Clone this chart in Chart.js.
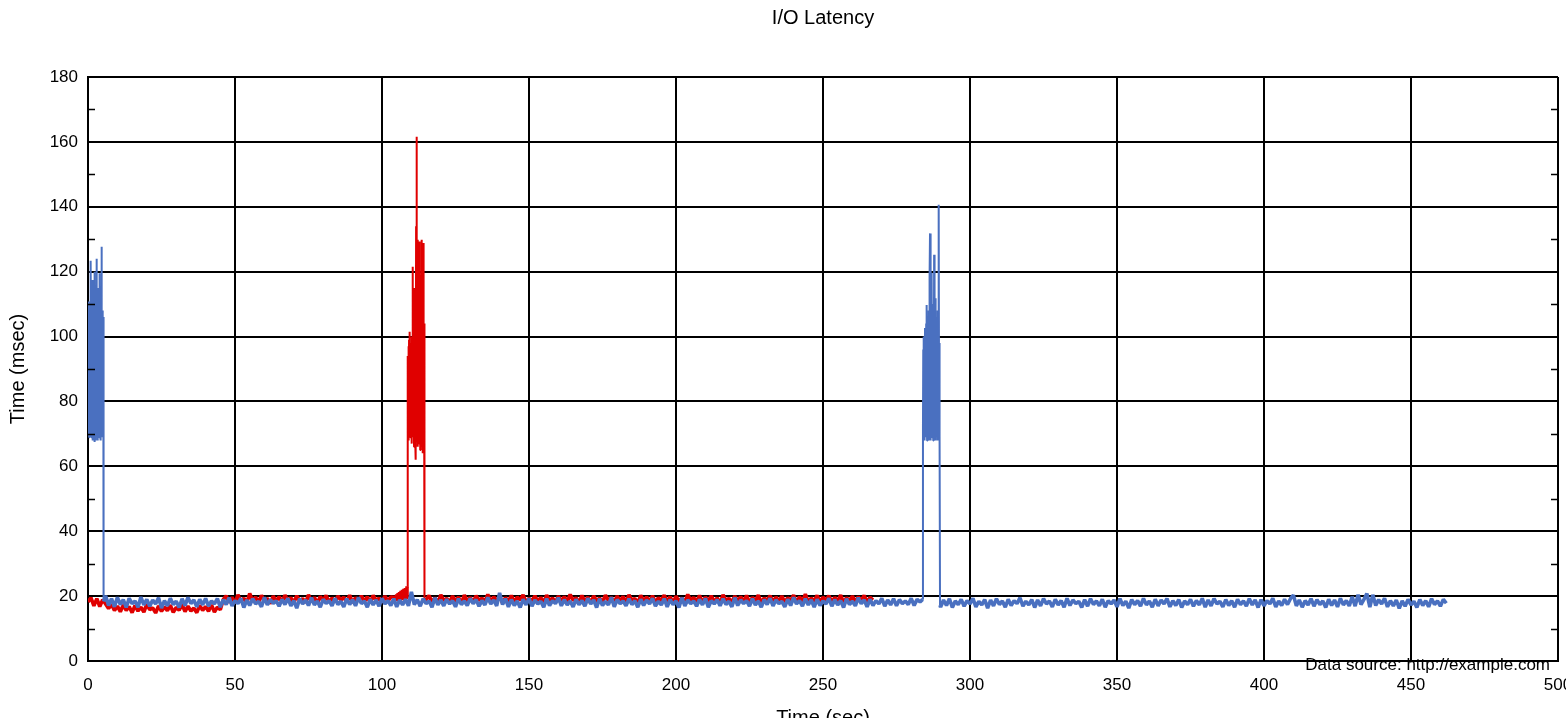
<!DOCTYPE html>
<html>
<head>
<meta charset="utf-8">
<title>I/O Latency</title>
<script src="https://cdn.jsdelivr.net/npm/chart.js@4.4.1/dist/chart.umd.min.js"></script>
<style>
  html, body { margin: 0; padding: 0; background: #fff; }
  canvas { display: block; }
</style>
</head>
<body>
<canvas id="latencyChart" width="1566" height="718"></canvas>
<script>
// axis ticks
const xTickValues = [0, 50, 100, 150, 200, 250, 300, 350, 400, 450, 500];
const yTickValues = [0, 20, 40, 60, 80, 100, 120, 140, 160, 180];
const yMinorTicks = [10, 30, 50, 70, 90, 110, 130, 150, 170];

// red series (msec)
// 0..103 s, every 1 s
const redSteady1 = [
  18.2, 19.5, 17.0, 19.2, 16.8, 18.9,
  17.6, 16.2, 17.4, 15.6,
  16.9, 15.2, 17.3, 15.6, 16.8, 14.9, 17.1, 15.4, 16.6, 15.1, 17.5, 15.8, 16.4, 14.8, 17.0, 15.3, 16.7, 15.5,
  17.2, 15.0, 16.5, 15.7, 17.4, 15.2, 16.9, 15.4, 16.3, 14.9, 17.1, 15.6, 16.8, 15.3, 17.3, 15.1, 16.6, 15.8,
  18.9, 20.1, 18.0, 19.6, 17.8, 20.4, 18.3, 19.4, 17.9, 20.8, 18.5, 19.7, 18.1, 20.2, 18.6, 19.3, 17.7, 20.0, 18.4, 19.8,
  18.2, 20.3, 18.7, 19.5, 17.9, 20.1, 18.5, 19.2, 18.0, 20.4, 18.3, 19.6, 17.8, 19.9, 18.6, 20.2, 18.1, 19.4, 18.4, 20.0,
  18.7, 19.7, 18.2, 20.3, 17.9, 19.5, 18.5, 20.1, 18.3, 19.8, 18.0, 20.2, 18.6, 19.4, 18.1, 20.0, 18.4, 19.7
];
// 104..108.5 s, every 0.25 s (creeping up before the burst)
const redRamp = [
  19.6, 18.4, 20.1, 18.7, 20.5, 18.5, 20.9, 18.9, 21.2, 18.6,
  21.6, 19.0, 21.9, 18.8, 22.2, 19.2, 22.5, 19.4, 22.6
];
// 108.6..114.5 s, every 0.1 s
const redBurst = [
  23, 72, 94, 70, 97, 68, 99, 101.5, 71, 95,
  69, 98, 72, 96, 70, 100, 67, 99, 121.5, 69,
  104, 71, 109, 66, 106, 70, 115, 68, 112, 62,
  134, 72, 161.6, 69, 118, 129.8, 66, 113, 70, 122,
  67, 129.3, 71, 110, 65, 119, 69, 114, 66, 129.8,
  70, 108, 64, 121, 68, 128.8, 67, 104, 70, 18.6
];
// 115..267 s, every 1 s
const redSteady2 = [
  18.9, 20.2, 18.1, 19.5, 17.9, 20.4, 18.6, 19.3, 18.2, 20.0, 18.5, 19.7, 17.8, 20.3, 18.4, 19.6, 18.0, 20.1, 18.7, 19.4,
  18.3, 20.5, 18.1, 19.8, 18.6, 20.0, 17.9, 19.5, 18.4, 20.2, 18.2, 19.7, 18.8, 20.4, 18.0, 19.3, 18.5, 20.1, 18.3, 19.6,
  17.9, 20.3, 18.6, 19.4, 18.1, 20.0, 18.4, 19.8, 18.2, 20.5, 18.7, 19.5, 18.0, 20.2, 18.3, 19.7, 17.8, 20.1, 18.5, 19.4,
  18.2, 20.3, 18.6, 19.6, 18.0, 20.0, 18.4, 19.9, 18.1, 20.4, 18.7, 19.3, 17.9, 20.2, 18.5, 19.7, 18.3, 20.1, 18.0, 19.5,
  18.6, 20.3, 18.2, 19.8, 17.9, 20.0, 18.4, 19.4, 18.1, 20.5, 18.7, 19.6, 18.3, 20.2, 18.0, 19.7, 18.5, 20.1, 18.2, 19.5,
  17.8, 20.4, 18.6, 19.3, 18.1, 20.0, 18.4, 19.8, 18.3, 20.2, 17.9, 19.6, 18.5, 20.3, 18.0, 19.4, 18.7, 20.1, 18.2, 19.7,
  18.4, 20.0, 18.1, 19.5, 18.6, 20.3, 17.9, 19.8, 18.3, 20.6, 18.0, 19.4, 18.5, 20.2, 18.2, 19.7, 18.7, 20.1, 18.1, 19.6,
  18.4, 20.3, 18.0, 19.5, 18.6, 20.0, 18.2, 19.8, 18.5, 20.2, 18.1, 19.6, 18.8
];

// blue series (msec)
// 0..5.3 s, every 0.1 s
const blueBurst1 = [
  70, 96, 72, 110.8, 69, 102, 71, 108, 70, 115,
  123.4, 69, 104, 72, 110, 68, 117.4, 70, 106, 69,
  112, 71, 67.5, 120, 70, 103, 68, 109, 71, 124,
  69, 107, 70, 112, 68, 115, 71, 105, 69, 110,
  119.5, 70, 104, 68, 111, 71, 127.7, 69, 103, 70,
  108, 71, 106, 18.4
];
// 6..283 s, every 1 s
const blueSteady1 = [
  20.1, 17.1, 19.2, 16.7, 19.6, 17.4, 18.9, 16.5, 19.3, 17.7, 18.5, 16.6, 19.7, 17.3, 19.0, 16.9, 18.8, 17.6, 19.5, 16.3,
  18.6, 17.0, 19.3, 17.4, 18.4, 16.5, 19.2, 17.1, 19.6, 17.7, 18.8, 16.7, 19.0, 17.3, 19.3, 16.9, 18.5, 17.6, 19.2, 16.6,
  18.9, 17.4, 19.5, 17.0, 18.6, 17.7, 19.3, 16.5, 18.8, 17.1, 19.2, 17.6, 18.4, 16.7, 19.6, 17.3, 18.9, 17.8, 18.5, 16.9,
  19.0, 17.4, 19.3, 17.0, 18.6, 16.3, 19.2, 17.6, 18.8, 17.1, 19.5, 17.3, 18.5, 16.6, 19.0, 17.7, 18.6, 17.0, 19.3, 17.4,
  18.4, 16.7, 19.2, 17.4, 18.9, 17.0, 19.6, 17.7, 18.5, 16.6, 19.0, 17.3, 18.8, 16.9, 19.3, 17.6, 18.6, 17.1, 19.2, 16.7,
  18.8, 17.3, 19.0, 17.0, 21.3, 17.4, 18.9, 16.9, 19.2, 17.7, 18.5, 16.6, 19.5, 17.3, 18.8, 17.0, 19.0, 17.6, 18.6, 16.7,
  19.2, 17.4, 18.5, 17.1, 19.3, 17.7, 18.9, 16.9, 18.6, 17.3, 19.6, 17.6, 18.8, 17.0, 21.0, 17.4, 19.2, 16.7, 18.9, 17.1,
  18.5, 16.5, 19.0, 17.3, 19.3, 16.9, 18.8, 17.6, 18.4, 16.6, 19.2, 17.1, 18.6, 17.7, 19.5, 17.0, 18.9, 17.3, 18.5, 16.7,
  19.0, 17.4, 18.6, 16.9, 19.3, 17.6, 18.8, 16.5, 19.2, 17.1, 18.4, 17.3, 19.6, 16.7, 18.9, 17.7, 18.5, 17.0, 19.2, 17.4,
  18.6, 16.6, 19.0, 17.1, 18.8, 17.6, 19.3, 16.9, 18.4, 17.3, 19.2, 16.7, 18.9, 17.4, 18.5, 16.5, 19.5, 17.0, 18.8, 17.7,
  18.5, 16.9, 19.0, 17.3, 19.3, 16.6, 18.6, 17.6, 18.9, 17.0, 19.2, 17.4, 18.4, 16.7, 19.5, 17.1, 18.8, 17.7, 18.6, 16.9,
  19.2, 17.3, 18.5, 16.6, 18.9, 17.4, 19.3, 17.0, 18.8, 17.7, 18.4, 16.7, 19.0, 17.1, 19.6, 17.6, 18.6, 16.9, 19.2, 17.3,
  18.8, 16.6, 19.0, 17.1, 18.5, 17.6, 19.3, 16.9, 18.9, 17.3, 18.6, 16.5, 19.2, 17.4, 18.4, 17.0, 19.5, 17.7, 18.8, 16.7,
  19.0, 17.1, 18.6, 17.6, 19.3, 16.9, 18.8, 17.3, 19.2, 17.0, 18.9, 17.7, 18.5, 17.4, 19.3, 17.1, 19.0, 18.2
];
// 283.9..289.8 s, every 0.1 s
const blueBurst2 = [
  19.0, 72, 96, 69, 100, 71, 98, 68, 102.6, 70,
  97, 69, 104, 72, 109.7, 68, 106, 70, 101, 69,
  108, 71, 103, 68, 118, 131.8, 70, 105, 68, 112,
  70, 119.6, 69, 107, 71, 104, 68, 110, 70, 125.2,
  69, 109, 71, 111.8, 68, 103, 70, 106, 69, 101,
  71, 108, 68, 104, 70, 140.6, 69, 98, 70, 17.2
];
// 290..462 s, every 1 s
const blueSteady2 = [
  16.6, 18.8, 17.1, 19.2, 16.5, 18.5, 17.4, 19.0, 16.9, 18.6, 17.6, 19.3, 16.7, 18.4, 17.3, 18.9, 16.3, 18.8, 17.0, 19.2,
  17.4, 18.5, 16.6, 19.0, 17.1, 18.6, 17.7, 19.5, 16.9, 18.4, 17.3, 18.9, 16.5, 18.8, 17.0, 19.2, 17.6, 18.5, 16.7, 19.0,
  17.3, 18.6, 16.6, 19.3, 17.1, 18.8, 17.7, 18.4, 16.5, 18.9, 16.9, 19.2, 17.4, 18.5, 17.0, 19.0, 16.6, 18.6, 17.6, 18.8,
  16.7, 19.2, 17.1, 18.4, 16.3, 18.9, 17.4, 18.6, 16.9, 19.3, 17.3, 18.5, 16.6, 19.0, 17.0, 18.8, 17.6, 19.2, 16.7, 18.6,
  17.1, 18.9, 16.5, 18.5, 17.4, 19.0, 16.9, 18.6, 17.3, 19.3, 16.6, 18.8, 17.0, 19.2, 17.6, 18.4, 16.7, 18.9, 17.1, 18.6,
  16.6, 19.0, 17.4, 18.5, 16.9, 19.2, 17.3, 18.8, 16.5, 18.9, 17.0, 18.6, 17.6, 19.3, 16.7, 18.5, 17.1, 19.0, 17.4, 19.2,
  20.3, 17.0, 18.8, 16.6, 18.6, 17.3, 19.2, 16.9, 18.9, 17.4, 18.5, 16.5, 19.0, 17.1, 18.8, 16.7, 19.3, 17.3, 18.6, 17.0,
  19.8, 16.9, 20.4, 17.4, 19.0, 20.8, 16.6, 20.4, 17.1, 18.9, 17.6, 19.3, 16.7, 18.6, 17.0, 18.8, 16.2, 18.5, 16.9, 19.0,
  17.3, 18.4, 16.5, 18.9, 17.1, 18.6, 16.7, 19.2, 17.4, 18.5, 16.9, 19.0, 17.8
];

// turn a run of evenly spaced samples into {x, y} points
function segment(start, step, values) {
  return values.map((v, i) => ({ x: +(start + i * step).toFixed(2), y: v }));
}

const redPoints = [].concat(
  segment(0, 1, redSteady1),
  segment(104, 0.25, redRamp),
  segment(108.6, 0.1, redBurst),
  segment(115, 1, redSteady2)
);
const bluePoints = [].concat(
  segment(0, 0.1, blueBurst1),
  segment(6, 1, blueSteady1),
  segment(283.9, 0.1, blueBurst2),
  segment(290, 1, blueSteady2)
);

// the steady noise is drawn heavier so it reads as a solid band
const noiseWidth = ctx => (ctx.p0.parsed.y < 25 && ctx.p1.parsed.y < 25) ? 3.6 : 2;

const FONT = 'Liberation Sans, Arial, sans-serif';
Chart.defaults.color = '#000';
Chart.defaults.font.family = FONT;

// short inner ticks at the odd tens, on both sides of the plot
const minorTicks = {
  id: 'minorTicks',
  afterDatasetsDraw(chart) {
    const { ctx, chartArea, scales } = chart;
    ctx.save();
    ctx.strokeStyle = '#000';
    ctx.lineWidth = 1.5;
    yMinorTicks.forEach(v => {
      const y = Math.round(scales.y.getPixelForValue(v)) + 0.5;
      ctx.beginPath();
      ctx.moveTo(chartArea.left, y);
      ctx.lineTo(chartArea.left + 7, y);
      ctx.moveTo(chartArea.right - 7, y);
      ctx.lineTo(chartArea.right, y);
      ctx.stroke();
    });
    ctx.restore();
  }
};

const sourceNote = {
  id: 'sourceNote',
  afterDraw(chart) {
    const { ctx, chartArea } = chart;
    ctx.save();
    ctx.font = '17px ' + FONT;
    ctx.fillStyle = '#000';
    ctx.textAlign = 'right';
    ctx.textBaseline = 'alphabetic';
    ctx.fillText('Data source: http://example.com', chartArea.right - 8, chartArea.bottom + 9);
    ctx.restore();
  }
};

const latencyChart = document.getElementById('latencyChart').getContext('2d');
new Chart(latencyChart, {
  type: 'line',
  data: {
    datasets: [{
      label: 'Blue',
      data: bluePoints,
      borderColor: '#4a70c0',
      borderWidth: 2,
      segment: { borderWidth: noiseWidth },
      order: 0
    }, {
      label: 'Red',
      data: redPoints,
      borderColor: '#e00000',
      borderWidth: 2,
      segment: { borderWidth: noiseWidth },
      order: 1
    }]
  },
  options: {
    responsive: false,
    animation: false,
    layout: { padding: { left: 0, right: 8, top: 0, bottom: 0 } },
    elements: {
      point: { radius: 0 },
      line: { tension: 0, fill: false, borderJoinStyle: 'bevel' }
    },
    scales: {
      x: {
        type: 'linear',
        min: 0,
        max: 500,
        afterBuildTicks: scale => { scale.ticks = xTickValues.map(v => ({ value: v })); },
        afterFit: scale => { scale.height = 57; scale.paddingLeft = 0; scale.paddingRight = 0; },
        grid: { color: '#000', lineWidth: 2, drawTicks: false },
        border: { color: '#000', width: 2 },
        ticks: { font: { size: 17 }, padding: 14, maxRotation: 0, autoSkip: false },
        title: { display: true, text: 'Time (sec)', font: { size: 20 }, padding: { top: 0, bottom: -12 } }
      },
      y: {
        min: 0,
        max: 180,
        afterBuildTicks: scale => { scale.ticks = yTickValues.map(v => ({ value: v })); },
        afterFit: scale => { scale.width = 88; },
        grid: { color: '#000', lineWidth: 2, drawTicks: false },
        border: { color: '#000', width: 2 },
        ticks: { font: { size: 17 }, padding: 10 },
        title: { display: true, text: 'Time (msec)', font: { size: 20 }, padding: { top: 6, bottom: 0 } }
      }
    },
    plugins: {
      legend: { display: false },
      tooltip: { enabled: false },
      title: {
        display: true,
        fullSize: false,
        text: 'I/O Latency',
        font: { size: 20, weight: 'normal' },
        padding: { top: 6, bottom: 47 }
      }
    }
  },
  plugins: [minorTicks, sourceNote]
});
</script>
</body>
</html>
